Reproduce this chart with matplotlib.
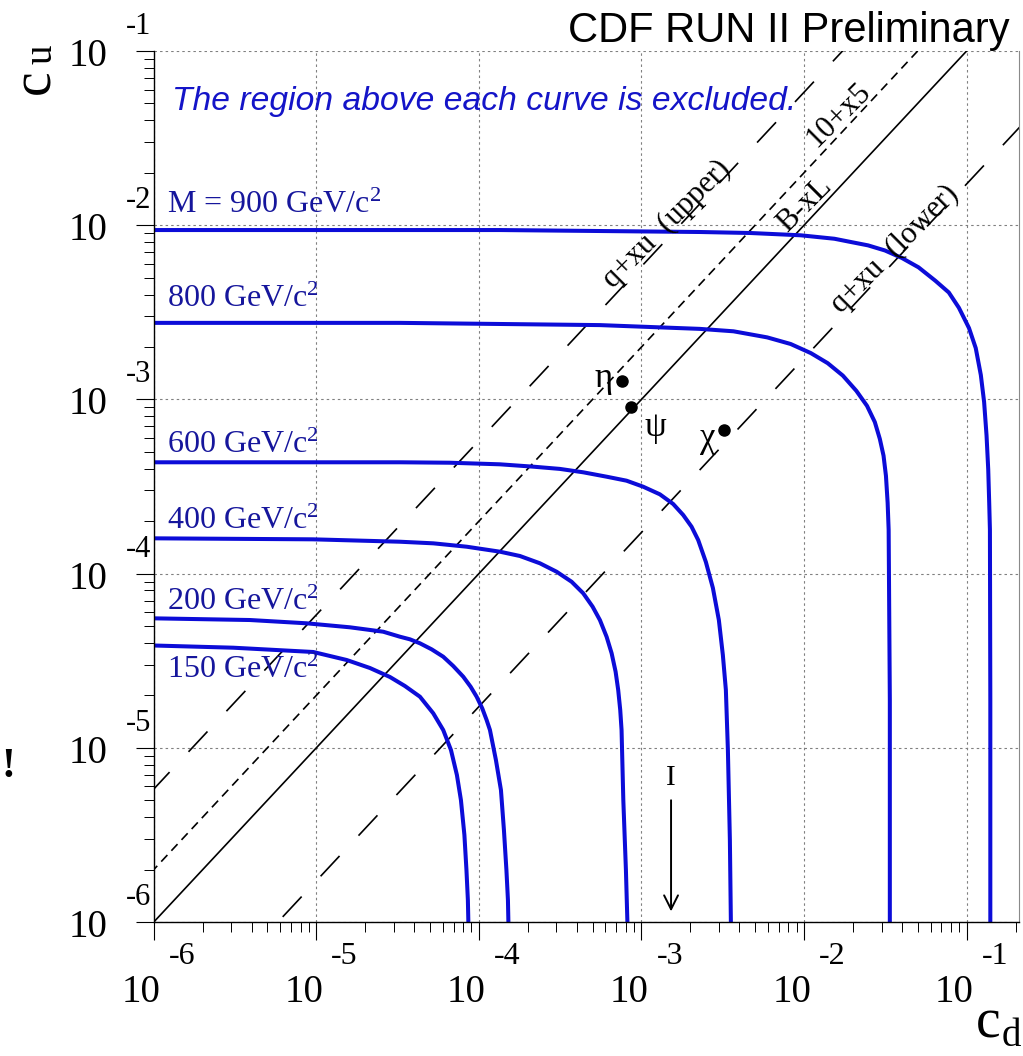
import numpy as np
import matplotlib
matplotlib.use("Agg")
import matplotlib.pyplot as plt
from matplotlib.ticker import LogLocator, NullFormatter

plt.rcParams["mathtext.fontset"] = "custom"
plt.rcParams["mathtext.rm"] = "Liberation Serif"
plt.rcParams["mathtext.it"] = "Liberation Serif:italic"
plt.rcParams["lines.scale_dashes"] = False

SERIF = "Liberation Serif"
SANS = "Liberation Sans"
BLUE = "#0c0cd8"
LABEL_BLUE = "#16169c"

# ---- exclusion contours in the (c_d, c_u) plane, one per Z' mass ----
cd_900 = [1e-6, 1.35e-4, 5.55e-4, 2.287e-3, 4.676e-3, 9.54e-3, 1.538e-2, 1.951e-2,
          2.475e-2, 3.145e-2, 3.99e-2, 5.06e-2, 6.42e-2, 7.77e-2, 8.96e-2, 0.1034,
          0.1138, 0.1223, 0.1281, 0.1326, 0.1358, 0.1377, 0.1391, 0.1399, 0.1399]
cu_900 = [9.38e-3, 9.38e-3, 9.26e-3, 9.14e-3, 9.02e-3, 8.75e-3, 8.36e-3, 8.00e-3,
          7.66e-3, 7.16e-3, 6.49e-3, 5.73e-3, 4.80e-3, 4.11e-3, 3.36e-3, 2.57e-3,
          1.97e-3, 1.38e-3, 9.67e-4, 6.21e-4, 3.97e-4, 2.55e-4, 1.79e-4, 1.88e-5, 1e-6]

cd_800 = [1e-6, 3.27e-5, 5.55e-4, 2.287e-3, 3.68e-3, 5.93e-3, 8.27e-3, 1.101e-2,
          1.398e-2, 1.732e-2, 2.097e-2, 2.44e-2, 2.725e-2, 2.925e-2, 3.083e-2,
          3.19e-2, 3.267e-2, 3.314e-2, 3.37e-2, 3.37e-2]
cu_800 = [2.75e-3, 2.75e-3, 2.67e-3, 2.54e-3, 2.46e-3, 2.27e-3, 2.08e-3, 1.844e-3,
          1.614e-3, 1.370e-3, 1.120e-3, 9.18e-4, 7.41e-4, 5.93e-4, 4.75e-4,
          3.64e-4, 2.55e-4, 1.786e-4, 1.88e-5, 1e-6]

cd_600 = [1e-6, 3.266e-5, 6.63e-5, 1.346e-4, 2.158e-4, 3.149e-4, 4.38e-4, 6.10e-4,
          8.09e-4, 1.024e-3, 1.297e-3, 1.566e-3, 1.805e-3, 2.032e-3, 2.232e-3,
          2.489e-3, 2.749e-3, 2.992e-3, 3.166e-3, 3.304e-3, 3.40e-3, 3.497e-3, 3.547e-3]
cu_600 = [4.355e-4, 4.355e-4, 4.33e-4, 4.24e-4, 4.11e-4, 3.99e-4, 3.815e-4, 3.60e-4,
          3.415e-4, 3.154e-4, 2.852e-4, 2.51e-4, 2.17e-4, 1.859e-4, 1.559e-4,
          1.166e-4, 8.27e-5, 5.41e-5, 3.41e-5, 2.15e-5, 9.71e-6, 2.96e-6, 1e-6]

cd_400 = [1e-6, 9.53e-6, 3.266e-5, 5.24e-5, 8.40e-5, 1.346e-4, 1.787e-4, 2.372e-4,
          3.005e-4, 3.716e-4, 4.38e-4, 5.003e-4, 5.55e-4, 6.10e-4, 6.55e-4, 6.93e-4,
          7.19e-4, 7.40e-4, 7.54e-4, 7.73e-4, 8.02e-4, 8.19e-4]
cu_400 = [1.594e-4, 1.573e-4, 1.524e-4, 1.492e-4, 1.427e-4, 1.336e-4, 1.262e-4, 1.146e-4,
          1.025e-4, 8.98e-5, 7.71e-5, 6.46e-5, 5.41e-5, 4.34e-5, 3.49e-5, 2.735e-5,
          2.147e-5, 1.648e-5, 1.265e-5, 5.01e-6, 1.99e-6, 1e-6]

cd_200 = [1e-6, 3.905e-6, 8.71e-6, 1.609e-5, 2.578e-5, 3.266e-5, 3.764e-5, 4.336e-5,
          5.118e-5, 6.03e-5, 6.95e-5, 8.01e-5, 8.89e-5, 9.68e-5, 1.048e-4, 1.115e-4,
          1.169e-4, 1.272e-4, 1.366e-4, 1.425e-4, 1.476e-4, 1.508e-4, 1.518e-4]
cu_200 = [5.536e-5, 5.414e-5, 5.184e-5, 4.917e-5, 4.639e-5, 4.342e-5, 4.195e-5, 3.98e-5,
          3.675e-5, 3.334e-5, 2.948e-5, 2.559e-5, 2.242e-5, 1.965e-5, 1.685e-5, 1.444e-5,
          1.265e-5, 8.51e-6, 5.72e-6, 3.37e-6, 1.99e-6, 1.34e-6, 1e-6]

cd_150 = [1e-6, 3.083e-6, 9.57e-6, 1.536e-5, 2.136e-5, 2.836e-5, 3.506e-5, 4.336e-5,
          5.236e-5, 6.03e-5, 6.73e-5, 7.32e-5, 7.75e-5, 8.14e-5, 8.38e-5, 8.55e-5, 8.61e-5]
cu_150 = [3.866e-5, 3.755e-5, 3.548e-5, 3.192e-5, 2.871e-5, 2.549e-5, 2.263e-5, 1.965e-5,
          1.578e-5, 1.265e-5, 9.71e-6, 6.98e-6, 5.01e-6, 3.16e-6, 1.99e-6, 1.34e-6, 1e-6]

contours = [(cd_900, cu_900), (cd_800, cu_800), (cd_600, cu_600),
            (cd_400, cu_400), (cd_200, cu_200), (cd_150, cu_150)]
mass_labels = [r"M = 900 GeV/c$^{2}$", r"800 GeV/c$^{2}$", r"600 GeV/c$^{2}$",
               r"400 GeV/c$^{2}$", r"200 GeV/c$^{2}$", r"150 GeV/c$^{2}$"]
mass_label_y = [0.814, 0.706, 0.5385, 0.451, 0.358, 0.280]   # axes fraction, baseline

# ---- model lines c_u = k * c_d ----
ratio_bxl = 1.0
ratio_10x5 = 2.0
ratio_qxu_upper = 5.8
ratio_qxu_lower = 1 / 5.8

# ---- benchmark models ----
model_names = ["\u03b7", "\u03c8", "\u03c7"]
model_cd = [7.6e-4, 8.6e-4, 3.2e-3]
model_cu = [1.28e-3, 9.0e-4, 6.7e-4]
model_offsets = [(-9, 2), (14, -20), (-8, -9)]
model_ha = ["right", "left", "right"]

# ---- I model: c_u -> 0 ----
arrow_cd = 1.52e-3
arrow_cu = (5.0e-6, 1.15e-6)

xlim = (1e-6, 0.21)
ylim = (1e-6, 1e-1)

W, H = 1023, 1056
fig = plt.figure(figsize=(W / 100, H / 100), dpi=100)
ax = fig.add_axes([153.8 / W, (H - 922) / H, 865.2 / W, 871 / H])
ax.set_xscale("log")
ax.set_yscale("log")
ax.set_xlim(*xlim)
ax.set_ylim(*ylim)

# grid
ax.grid(True, which="major", color="#808080", lw=0.8, ls=(0, (1.8, 2.2)))
ax.set_axisbelow(True)

# ticks
for axis in (ax.xaxis, ax.yaxis):
    axis.set_major_locator(LogLocator(base=10, numticks=20))
    axis.set_minor_locator(LogLocator(base=10, subs=np.arange(2, 10), numticks=20))
    axis.set_minor_formatter(NullFormatter())
ax.tick_params(which="major", direction="out", length=13, width=0.8,
               labelbottom=False, labelleft=False)
ax.tick_params(which="minor", direction="out", length=7, width=0.7)
ax.spines["top"].set_visible(False)
ax.spines["right"].set_color("#8a8a8a")
ax.spines["right"].set_linewidth(0.8)
for s in ("left", "bottom"):
    ax.spines[s].set_linewidth(1.0)

# model lines
cd_line = np.array([1e-8, 10.0])
ax.plot(cd_line, ratio_bxl * cd_line, color="black", lw=1.2)
ax.plot(cd_line, ratio_10x5 * cd_line, color="black", lw=1.2, ls=(0, (6.5, 4.2)))
ax.plot(cd_line, ratio_qxu_upper * cd_line, color="black", lw=1.2, ls=(0, (20, 20)))
ax.plot(cd_line, ratio_qxu_lower * cd_line, color="black", lw=1.2, ls=(22, (20, 20)))

# exclusion contours
for (cd, cu) in contours:
    ax.plot(cd, cu, color=BLUE, lw=2.9, solid_joinstyle="round", solid_capstyle="butt")

for text, yb in zip(mass_labels, mass_label_y):
    ax.text(0.0149, yb, text, transform=ax.transAxes, fontsize=23, family=SERIF,
            color=LABEL_BLUE, ha="left", va="baseline")

ax.text(0.021, 0.932, "The region above each curve is excluded.", transform=ax.transAxes,
        fontsize=24.2, family=SANS, style="italic", color="#1414c8", ha="left",
        va="baseline")

# benchmark points
ax.plot(model_cd, model_cu, "o", color="black", ms=8, ls="none")
for name, x, y, off, ha in zip(model_names, model_cd, model_cu, model_offsets, model_ha):
    ax.annotate(name, xy=(x, y), xytext=off, textcoords="offset pixels",
                fontsize=25, family=SERIF, ha=ha, va="center")

# I model arrow
ax.annotate("", xy=(arrow_cd, arrow_cu[1]), xytext=(arrow_cd, arrow_cu[0]),
            arrowprops=dict(arrowstyle="->, head_length=1.0, head_width=0.5",
                            lw=1.4, color="black", shrinkA=0, shrinkB=0))
ax.annotate("I", xy=(arrow_cd, arrow_cu[0]), xytext=(0, 22), textcoords="offset pixels",
            fontsize=21, family=SERIF, ha="center", va="center")

# line labels
def ax_px(px, py):
    return (px - 153.8) / 865.2, (922 - py) / 871

for text, (px, py) in [("q+xu  (upper)", (667, 224)), ("10+x5", (839, 115)),
                       ("B-xL", (805, 205)), ("q+xu  (lower)", (895, 249))]:
    ax.text(*ax_px(px, py), text, transform=ax.transAxes, fontsize=22, family=SERIF,
            rotation=45, rotation_mode="anchor", ha="center", va="center")

# tick labels, ROOT style: large "10" with a detached exponent
for v in [1e-6, 1e-5, 1e-4, 1e-3, 1e-2, 1e-1]:
    e = str(int(round(np.log10(v))))
    ax.annotate("10", xy=(v, 0), xycoords=("data", "axes fraction"), xytext=(7, -80),
                textcoords="offset pixels", fontsize=28, family=SERIF,
                ha="right", va="baseline", annotation_clip=False)
    ax.annotate(e, xy=(v, 0), xycoords=("data", "axes fraction"), xytext=(15, -42),
                textcoords="offset pixels", fontsize=23, family=SERIF,
                ha="left", va="baseline", annotation_clip=False)
    ax.annotate("10", xy=(0, v), xycoords=("axes fraction", "data"), xytext=(-46, -15),
                textcoords="offset pixels", fontsize=28, family=SERIF,
                ha="right", va="baseline", annotation_clip=False)
    ax.annotate(e, xy=(0, v), xycoords=("axes fraction", "data"), xytext=(-3, 17),
                textcoords="offset pixels", fontsize=22, family=SERIF,
                ha="right", va="baseline", annotation_clip=False)

# axis titles
def fig_px(px, py):
    return px / W, 1 - py / H

fig.text(*fig_px(35, 82), "c", fontsize=40, family=SERIF, rotation=90,
         ha="center", va="center")
fig.text(*fig_px(42, 54), "u", fontsize=28, family=SERIF, rotation=90,
         ha="center", va="center")
fig.text(*fig_px(988, 1024), "c", fontsize=40, family=SERIF, ha="center", va="center")
fig.text(*fig_px(1011, 1036), "d", fontsize=28, family=SERIF, ha="center", va="center")
fig.text(*fig_px(8, 777), "!", fontsize=30, family=SERIF, weight="bold",
         ha="center", va="baseline")

fig.text(*fig_px(1010, 42), "CDF RUN II Preliminary", fontsize=30, family=SANS,
         ha="right", va="baseline")

fig.savefig("out.png", dpi=100, facecolor="white")
